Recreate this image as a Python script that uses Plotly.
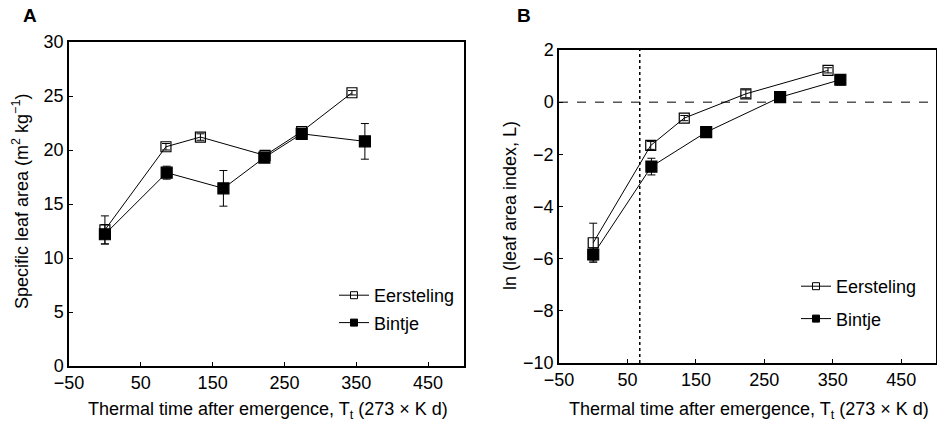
import plotly.graph_objects as go

# ---- Data ----
# Panel A: specific leaf area
tt_a_eer = [0, 85, 133, 223, 274, 344]
sla_eer = [12.6, 20.3, 21.2, 19.5, 21.7, 25.3]
sla_eer_err = [1.3, 0.3, 0.3, 0.3, 0.3, 0.2]
tt_a_bin = [0, 86, 165, 222, 274, 362]
sla_bin = [12.2, 17.9, 16.45, 19.3, 21.5, 20.8]
sla_bin_err = [0.9, 0.6, 1.65, 0.3, 0.3, 1.65]

# Panel B: ln(leaf area index)
tt_b_eer = [0, 84, 133, 223, 343]
lai_eer = [-5.39, -1.66, -0.61, 0.32, 1.22]
lai_eer_err = [0.75, 0.15, 0.1, 0.15, 0.1]
tt_b_bin = [0, 85, 165, 273, 361]
lai_bin = [-5.84, -2.47, -1.15, 0.19, 0.86]
lai_bin_err = [0.25, 0.32, 0.1, 0.1, 0.2]

x_ticks = [-50, 50, 150, 250, 350, 450]
x_ticktext = ["\u221250", "50", "150", "250", "350", "450"]
ya_ticks = [0, 5, 10, 15, 20, 25, 30]
yb_ticks = [-10, -8, -6, -4, -2, 0, 2]
yb_ticktext = ["\u221210", "\u22128", "\u22126", "\u22124", "\u22122", "0", "2"]
threshold_tt = 68

W, H = 937, 425
FONT = "Liberation Sans, Arial, sans-serif"
FS = 18

fig = go.Figure()


def add_series(x, y, err, xa, ya, symbol, size):
    fig.add_trace(go.Scatter(
        x=x, y=y, xaxis=xa, yaxis=ya, mode="lines+markers",
        line=dict(color="black", width=1),
        marker=dict(symbol=symbol, size=size, color="black",
                    line=dict(color="black", width=1.2)),
        error_y=dict(type="data", array=err, visible=True,
                     color="black", thickness=1, width=4),
        showlegend=False, cliponaxis=False))


def add_legend_item(name, xa, ya, symbol, legend, group):
    fig.add_trace(go.Scatter(
        x=[None], y=[None], xaxis=xa, yaxis=ya, mode="lines+markers", name=name,
        line=dict(color="black", width=1),
        marker=dict(symbol=symbol, size=7, color="black",
                    line=dict(color="black", width=1)),
        legend=legend, legendgroup=group, showlegend=True))


# Panel A
add_series(tt_a_eer, sla_eer, sla_eer_err, "x", "y", "square-open", 10)
add_series(tt_a_bin, sla_bin, sla_bin_err, "x", "y", "square", 11)
add_legend_item("Eersteling", "x", "y", "square-open", "legend", "a1")
add_legend_item("Bintje", "x", "y", "square", "legend", "a2")

# Panel B
add_series(tt_b_eer, lai_eer, lai_eer_err, "x2", "y2", "square-open", 10)
add_series(tt_b_bin, lai_bin, lai_bin_err, "x2", "y2", "square", 11)
add_legend_item("Eersteling", "x2", "y2", "square-open", "legend2", "b1")
add_legend_item("Bintje", "x2", "y2", "square", "legend2", "b2")

# reference lines in panel B
fig.add_shape(type="line", xref="x2", yref="y2", x0=threshold_tt, x1=threshold_tt,
              y0=-10, y1=2, line=dict(color="black", width=1.5, dash="dot"))
fig.add_shape(type="line", xref="x2 domain", yref="y2", x0=0, x1=1,
              y0=0, y1=0, line=dict(color="black", width=1, dash="dash"))

axis_common = dict(showgrid=False, zeroline=False, showline=True, mirror=True,
                   linecolor="black", linewidth=1.5, ticks="inside", ticklen=4,
                   tickcolor="black", tickwidth=1, automargin=False,
                   tickfont=dict(family=FONT, size=FS, color="black"))

fig.update_layout(
    template="none",
    width=W, height=H,
    margin=dict(l=0, r=0, t=0, b=0, pad=0, autoexpand=False),
    paper_bgcolor="white", plot_bgcolor="white",
    font=dict(family=FONT, size=FS, color="black"),
    xaxis=dict(domain=[69 / W, 464 / W], range=[-50, 500], tickmode="array",
               tickvals=x_ticks, ticktext=x_ticktext, anchor="y", **axis_common),
    yaxis=dict(domain=[1 - 366 / H, 1 - 42 / H], range=[0, 30], tickmode="array",
               tickvals=ya_ticks, anchor="x", **axis_common),
    xaxis2=dict(domain=[559 / W, 935.5 / W], range=[-50, 500], tickmode="array",
                tickvals=x_ticks, ticktext=x_ticktext, anchor="y2", **axis_common),
    yaxis2=dict(domain=[1 - 363 / H, 1 - 50 / H], range=[-10, 2], tickmode="array",
                tickvals=yb_ticks, ticktext=yb_ticktext, anchor="x2", **axis_common),
    legend=dict(x=334 / W, y=1 - 277 / H, xanchor="left", yanchor="top",
                bgcolor="rgba(0,0,0,0)", borderwidth=0,
                font=dict(family=FONT, size=FS), tracegroupgap=1),
    legend2=dict(x=796 / W, y=1 - 268 / H, xanchor="left", yanchor="top",
                 bgcolor="rgba(0,0,0,0)", borderwidth=0,
                 font=dict(family=FONT, size=FS), tracegroupgap=6),
)

annots = [
    dict(text="<b>A</b>", x=30 / W, y=1 - 16 / H, size=19),
    dict(text="<b>B</b>", x=524 / W, y=1 - 16 / H, size=19),
    dict(text="Thermal time after emergence, T<sub>t</sub> (273 \u00d7 K d)",
         x=268 / W, y=1 - 410 / H, size=FS),
    dict(text="Thermal time after emergence, T<sub>t</sub> (273 \u00d7 K d)",
         x=749 / W, y=1 - 410 / H, size=FS),
    dict(text="Specific leaf area (m<sup>2</sup> kg<sup>\u22121</sup>)",
         x=20 / W, y=1 - 202 / H, size=FS, angle=-90),
    dict(text="ln (leaf area index, L)",
         x=510 / W, y=1 - 206 / H, size=FS, angle=-90),
]
for a in annots:
    fig.add_annotation(text=a["text"], x=a["x"], y=a["y"], xref="paper", yref="paper",
                       xanchor="center", yanchor="middle", showarrow=False,
                       textangle=a.get("angle", 0),
                       font=dict(family=FONT, size=a["size"], color="black"))

fig.write_html(
    "out.html",
    config={"displayModeBar": False},
    post_script="document.body.style.margin='0';document.body.style.overflow='hidden';",
)
